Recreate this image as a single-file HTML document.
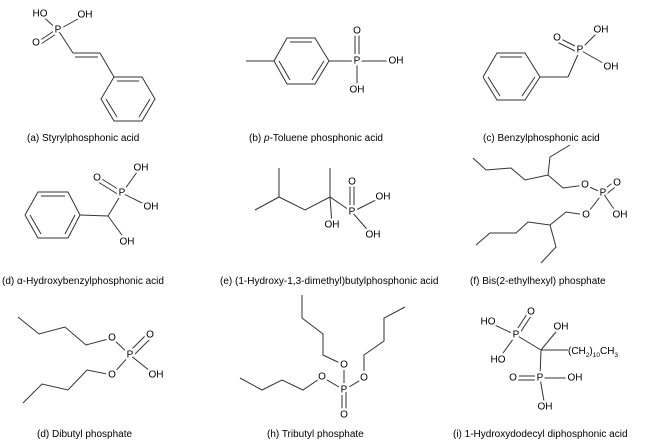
<!DOCTYPE html>
<html><head><meta charset="utf-8"><style>
html,body{margin:0;padding:0;background:#fff}
svg{display:block}
text{font-family:"Liberation Sans",Arial,sans-serif;fill:#000}
.a{font-size:10px;text-anchor:middle;dominant-baseline:central;paint-order:stroke;stroke:#fff;stroke-width:5px;stroke-linejoin:round}
.l{font-size:10px}
line,polyline{stroke:#333;stroke-width:1;fill:none}
</style></head><body>
<svg width="650" height="442" viewBox="0 0 650 442" xmlns="http://www.w3.org/2000/svg">
<!-- (a) -->
<line x1="40" y1="14" x2="58" y2="30"/><line x1="58" y1="30" x2="85" y2="15"/>
<line x1="36" y1="43" x2="57" y2="29"/><line x1="38" y1="46" x2="59" y2="32"/>
<line x1="58" y1="30" x2="73" y2="53"/><line x1="73" y1="53" x2="100" y2="53"/><line x1="75" y1="57" x2="98" y2="57"/>
<line x1="100" y1="53" x2="114" y2="77"/>
<polyline points="114,77 142,77 155,99 142,121 114,121 101,99 114,77"/>
<line x1="117" y1="81" x2="139" y2="81"/><line x1="150" y1="99" x2="139" y2="117"/><line x1="106" y1="99" x2="117" y2="117"/>
<text class="a" x="40" y="14">HO</text><text class="a" x="85" y="15">OH</text><text class="a" x="58" y="30">P</text><text class="a" x="36" y="43">O</text>
<text class="l" x="27" y="141">(a)  Styrylphosphonic acid</text>
<!-- (b) -->
<line x1="246" y1="61" x2="274" y2="61"/>
<polyline points="274,61 287,38 315,38 329,61 315,84 287,84 274,61"/>
<line x1="290" y1="42" x2="312" y2="42"/><line x1="324" y1="61" x2="312" y2="80"/><line x1="279" y1="61" x2="290" y2="80"/>
<line x1="329" y1="61" x2="395" y2="61"/><line x1="357" y1="61" x2="357" y2="90"/>
<line x1="355" y1="31" x2="355" y2="61"/><line x1="359" y1="31" x2="359" y2="61"/>
<text class="a" x="357" y="61">P</text><text class="a" x="357" y="31">O</text><text class="a" x="396" y="61">OH</text><text class="a" x="357" y="90">OH</text>
<text class="l" x="249" y="141">(b)  <tspan font-style="italic">p</tspan>-Toluene phosphonic acid</text>
<!-- (c) -->
<polyline points="483,77 497,53 525,53 540,77 525,100 497,100 483,77"/>
<line x1="500" y1="57" x2="522" y2="57"/><line x1="535" y1="77" x2="522" y2="96"/><line x1="488" y1="77" x2="500" y2="96"/>
<line x1="540" y1="77" x2="568" y2="77"/><line x1="568" y1="77" x2="580" y2="50"/>
<line x1="580" y1="50" x2="600" y2="30"/><line x1="580" y1="50" x2="610" y2="67"/>
<line x1="557" y1="37" x2="579" y2="48"/><line x1="555" y1="41" x2="577" y2="52"/>
<text class="a" x="580" y="50">P</text><text class="a" x="557" y="38">O</text><text class="a" x="601" y="30">OH</text><text class="a" x="611" y="67">OH</text>
<text class="l" x="483" y="141">(c)  Benzylphosphonic acid</text>
<!-- (d) -->
<polyline points="25,215 38,192 68,192 80,215 68,238 38,238 25,215"/>
<line x1="41" y1="196" x2="65" y2="196"/><line x1="75" y1="215" x2="65" y2="234"/><line x1="30" y1="215" x2="41" y2="234"/>
<line x1="80" y1="215" x2="108" y2="216"/><line x1="108" y1="216" x2="122" y2="193"/><line x1="108" y1="216" x2="127" y2="242"/>
<line x1="122" y1="193" x2="140" y2="168"/><line x1="122" y1="193" x2="150" y2="207"/>
<line x1="97" y1="176" x2="121" y2="191"/><line x1="95" y1="180" x2="119" y2="195"/>
<text class="a" x="122" y="193">P</text><text class="a" x="97" y="178">O</text><text class="a" x="141" y="168">OH</text><text class="a" x="151" y="207">OH</text><text class="a" x="127" y="242">OH</text>
<text class="l" x="2" y="284">(d)  α-Hydroxybenzylphosphonic acid</text>
<!-- (e) -->
<polyline points="255,210 279,197 305,210 330,197 352,212"/>
<line x1="279" y1="197" x2="279" y2="168"/><line x1="330" y1="197" x2="330" y2="168"/><line x1="330" y1="197" x2="332" y2="225"/>
<line x1="352" y1="212" x2="382" y2="197"/><line x1="352" y1="212" x2="372" y2="235"/>
<line x1="350" y1="182" x2="350" y2="212"/><line x1="354" y1="182" x2="354" y2="212"/>
<text class="a" x="352" y="212">P</text><text class="a" x="352" y="182">O</text><text class="a" x="383" y="197">OH</text><text class="a" x="373" y="235">OH</text><text class="a" x="332" y="225">OH</text>
<text class="l" x="220" y="284">(e)  (1-Hydroxy-1,3-dimethyl)butylphosphonic acid</text>
<!-- (f) -->
<polyline points="473,158 486,170 511,168 525,180 548,175 563,188 585,185 603,193"/>
<polyline points="548,175 550,157 570,145"/>
<polyline points="476,245 490,233 516,233 528,222 550,225 566,212 586,215 603,193"/>
<polyline points="550,225 556,247 541,263"/>
<line x1="603" y1="193" x2="618" y2="215"/>
<line x1="602" y1="191" x2="615" y2="181"/><line x1="605" y1="195" x2="618" y2="185"/>
<text class="a" x="603" y="193">P</text><text class="a" x="585" y="185">O</text><text class="a" x="586" y="215">O</text><text class="a" x="617" y="183">O</text><text class="a" x="620" y="215">OH</text>
<text class="l" x="470" y="284">(f)  Bis(2-ethylhexyl) phosphate</text>
<!-- (g) -->
<polyline points="18,317 39,334 65,327 86,345 112,338 130,355"/>
<polyline points="23,403 42,384 68,390 87,370 112,375 130,355"/>
<line x1="130" y1="355" x2="155" y2="375"/>
<line x1="128" y1="353" x2="148" y2="333"/><line x1="132" y1="357" x2="152" y2="337"/>
<text class="a" x="130" y="355">P</text><text class="a" x="112" y="338">O</text><text class="a" x="112" y="375">O</text><text class="a" x="150" y="335">O</text><text class="a" x="156" y="375">OH</text>
<text class="l" x="37" y="437">(d)  Dibutyl phosphate</text>
<!-- (h) -->
<polyline points="302,295 302,318 323,334 323,355 344,365 344,390"/>
<polyline points="240,378 262,390 282,380 303,390 322,377 344,390"/>
<polyline points="405,307 384,318 384,341 364,355 364,378 344,390"/>
<line x1="342" y1="390" x2="342" y2="415"/><line x1="346" y1="390" x2="346" y2="415"/>
<text class="a" x="344" y="390">P</text><text class="a" x="344" y="365">O</text><text class="a" x="322" y="377">O</text><text class="a" x="364" y="378">O</text><text class="a" x="344" y="415">O</text>
<text class="l" x="267" y="437">(h)  Tributyl phosphate</text>
<!-- (i) -->
<line x1="488" y1="322" x2="516" y2="335"/><line x1="498" y1="360" x2="516" y2="335"/>
<line x1="514" y1="334" x2="529" y2="311"/><line x1="518" y1="336" x2="533" y2="313"/>
<line x1="516" y1="335" x2="541" y2="350"/><line x1="541" y1="350" x2="560" y2="327"/><line x1="541" y1="350" x2="568" y2="350"/>
<line x1="541" y1="350" x2="540" y2="378"/><line x1="540" y1="378" x2="573" y2="378"/><line x1="540" y1="378" x2="545" y2="407"/>
<line x1="513" y1="376" x2="540" y2="376"/><line x1="513" y1="380" x2="540" y2="380"/>
<text class="a" x="488" y="322">HO</text><text class="a" x="516" y="335">P</text><text class="a" x="531" y="312">O</text><text class="a" x="498" y="360">HO</text>
<text class="a" x="561" y="327">OH</text><text class="a" x="540" y="378">P</text><text class="a" x="513" y="378">O</text><text class="a" x="575" y="378">OH</text><text class="a" x="545" y="407">OH</text>
<text x="568" y="354" font-size="10">(CH<tspan font-size="6.5" dy="3">2</tspan><tspan dy="-3">)</tspan><tspan font-size="6.5" dy="3">10</tspan><tspan dy="-3">CH</tspan><tspan font-size="6.5" dy="3">3</tspan></text>
<text class="l" x="453" y="437">(i)  1-Hydroxydodecyl diphosphonic acid</text>
</svg>
</body></html>
